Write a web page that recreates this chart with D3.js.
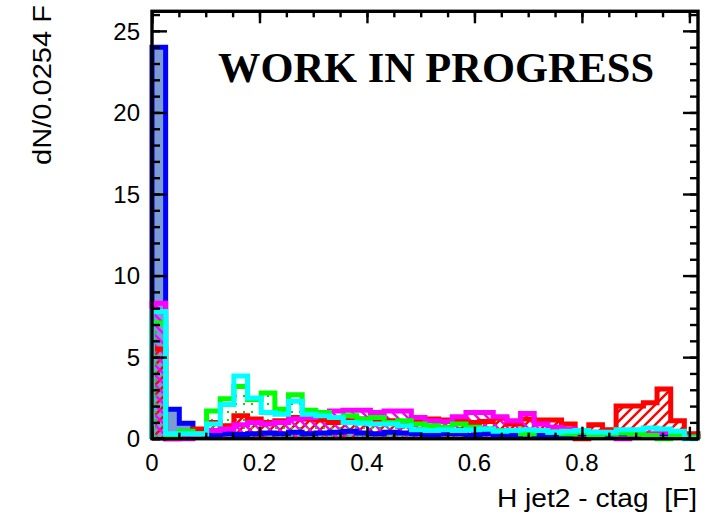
<!DOCTYPE html>
<html>
<head>
<meta charset="utf-8">
<script src="https://cdn.jsdelivr.net/npm/d3@7"></script>
<style>
  html, body { margin: 0; padding: 0; background: #fff; }
  svg { display: block; }
  text { white-space: pre; }
</style>
</head>
<body>
<svg id="chart" width="725" height="516"></svg>
<script>
// Binning: 40 bins of width 0.0254 starting at 0
const binWidth = 0.0254;
const nBins = 40;

// Bin contents per sample (dN per bin)
const blueVals = [24, 1.8, 0.95, 0.3, 0.2, 0.3, 0.25, 0.3, 0.35, 0.3, 0.4, 0.3, 0.35, 0.4, 0.45, 0.35, 0.3, 0.4, 0.35, 0.3,
                  0.25, 0.3, 0.3, 0.2, 0.3, 0.25, 0.2, 0.3, 0.2, 0.15, 0.2, 0.15, 0.2, 0.1, 0.15, 0.1, 0.1, 0.15, 0.1, 0.1];
const redVals = [5.5, 0, 0.2, 0.6, 1.0, 0.8, 1.4, 1.2, 1.0, 1.1, 1.3, 1.2, 1.15, 1.0, 1.1, 1.2, 1.0, 1.1, 0.95, 1.0,
                 1.2, 1.15, 1.15, 1.0, 1.05, 1.25, 0.9, 1.2, 1.15, 1.15, 0.9, 0, 0.85, 0.55, 2.0, 2.0, 2.2, 3.05, 1.1, 0.3];
const magentaVals = [8.3, 0, 0, 0.3, 0.5, 0.6, 0.85, 1.0, 0.9, 1.0, 1.2, 1.3, 1.6, 1.7, 1.75, 1.75, 1.6, 1.7, 1.7, 1.3,
                     1.1, 1.05, 1.35, 1.6, 1.6, 1.35, 1.1, 1.55, 0.9, 0.7, 0.6, 0.4, 0.4, 0.3, 0, 0.2, 0.3, 0.4, 0.3, 0.1];
const greenVals = [7.1, 0.1, 0.45, 0.3, 1.7, 2.45, 3.2, 2.4, 2.8, 1.8, 2.7, 1.75, 1.6, 1.3, 1.4, 1.2, 1.3, 1.0, 1.1, 0.9,
                   0.8, 0.7, 0.9, 0.7, 0.6, 0.5, 0.5, 0.3, 0.5, 0.4, 0.3, 0.4, 0.2, 0.3, 0.35, 0.3, 0.2, 0, 0.2, 0.1];
const cyanVals = [7.8, 0.3, 0.3, 0.3, 0.9, 2.1, 3.85, 2.5, 1.6, 1.5, 2.3, 1.5, 1.4, 1.3, 1.0, 0.95, 0.9, 0.9, 0.8, 0.55,
                  0.5, 0.55, 0.5, 0.55, 0.6, 0.45, 0.5, 0.55, 0.5, 0.4, 0.45, 0.5, 0.4, 0.4, 0.55, 0.55, 0.65, 0.6, 0.45, 0];

// Axis ticks and labels
const xMajorTicks = [0, 0.2, 0.4, 0.6, 0.8, 1];
const xTickLabels = ["0", "0.2", "0.4", "0.6", "0.8", "1"];
const xMinorTicks = d3.range(0, 1.0161, 0.05);
const yMajorTicks = [0, 5, 10, 15, 20, 25];
const yTickLabels = ["0", "5", "10", "15", "20", "25"];
const yMinorTicks = d3.range(0, 26.01, 1);

const xTitle = "H jet2 - ctag  [F]";
const yTitle = "dN/0.0254 F";
const banner = "WORK IN PROGRESS";

const svg = d3.select("#chart");
const xMax = binWidth * nBins;
const x = d3.scaleLinear().domain([0, xMax]).range([152, 698]);
const y = d3.scaleLinear().domain([0, 26.2]).range([438.7, 11.3]);

const defs = svg.append("defs");
// "/" hatch
const hatchR = defs.append("pattern").attr("id", "hatchRed").attr("patternUnits", "userSpaceOnUse")
  .attr("width", 10).attr("height", 10);
hatchR.append("path").attr("d", "M-2,2 L2,-2 M0,10 L10,0 M8,12 L12,8")
  .attr("stroke", "#ff0000").attr("stroke-width", 2.4);
// "\" hatch
const hatchM = defs.append("pattern").attr("id", "hatchMag").attr("patternUnits", "userSpaceOnUse")
  .attr("width", 10).attr("height", 10);
hatchM.append("path").attr("d", "M-2,8 L2,12 M0,0 L10,10 M8,-2 L12,2")
  .attr("stroke", "#ff00ff").attr("stroke-width", 2.4);
// dotted fill
const dots = defs.append("pattern").attr("id", "dotsGreen").attr("patternUnits", "userSpaceOnUse")
  .attr("width", 8).attr("height", 8);
dots.append("rect").attr("x", 3).attr("y", 3).attr("width", 2).attr("height", 2).attr("fill", "#00dd00");

// Step outline through bin edges
function stepPoints(vals) {
  const pts = [[0, 0]];
  vals.forEach((v, i) => pts.push([i * binWidth, v]));
  pts.push([nBins * binWidth, vals[vals.length - 1]]);
  pts.push([nBins * binWidth, 0]);
  return pts;
}
const stepLine = d3.line().x(d => x(d[0])).y(d => y(d[1])).curve(d3.curveStepAfter);

const series = [
  { vals: blueVals,    stroke: "#0000ff", fill: "#7b9bd3" },
  { vals: redVals,     stroke: "#ff0000", fill: "url(#hatchRed)" },
  { vals: magentaVals, stroke: "#ff00ff", fill: "url(#hatchMag)" },
  { vals: greenVals,   stroke: "#00ff00", fill: "url(#dotsGreen)" },
  { vals: cyanVals,    stroke: "#00ffff", fill: "none" }
];

const gHist = svg.append("g");
series.forEach(s => {
  const pts = stepPoints(s.vals);
  if (s.fill !== "none") {
    gHist.append("path").attr("d", stepLine(pts) + "Z").attr("fill", s.fill).attr("stroke", "none");
  }
});
series.forEach(s => {
  const pts = stepPoints(s.vals);
  gHist.append("path").attr("d", stepLine(pts))
    .attr("fill", "none").attr("stroke", s.stroke).attr("stroke-width", 5)
    .attr("stroke-linejoin", "miter");
});

// Frame
svg.append("rect").attr("x", x(0)).attr("y", y(26.2))
  .attr("width", x(xMax) - x(0)).attr("height", y(0) - y(26.2))
  .attr("fill", "none").attr("stroke", "#000").attr("stroke-width", 3.4);

// Inward ticks on all four sides
function ticks(axisFn, scale, values, size, transform) {
  const g = svg.append("g").attr("transform", transform)
    .call(axisFn(scale).tickValues(values).tickSize(size).tickFormat(""));
  g.select(".domain").remove();
  g.selectAll(".tick line").attr("stroke", "#000").attr("stroke-width", 2.4);
  return g;
}
ticks(d3.axisBottom, x, xMajorTicks, -12, `translate(0,${y(0)})`);
ticks(d3.axisBottom, x, xMinorTicks, -6, `translate(0,${y(0)})`);
ticks(d3.axisTop, x, xMajorTicks, -12, `translate(0,${y(26.2)})`);
ticks(d3.axisTop, x, xMinorTicks, -6, `translate(0,${y(26.2)})`);
ticks(d3.axisLeft, y, yMajorTicks, -15, `translate(${x(0)},0)`);
ticks(d3.axisLeft, y, yMinorTicks, -8, `translate(${x(0)},0)`);
ticks(d3.axisRight, y, yMajorTicks, -15, `translate(${x(xMax)},0)`);
ticks(d3.axisRight, y, yMinorTicks, -8, `translate(${x(xMax)},0)`);

// Tick labels
const labelFont = "'Liberation Sans', Arial, Helvetica, sans-serif";
svg.append("g").selectAll("text").data(xMajorTicks).join("text")
  .attr("x", d => x(d)).attr("y", 470.5)
  .attr("text-anchor", "middle").attr("font-family", labelFont).attr("font-size", 24)
  .text((d, i) => xTickLabels[i]);
svg.append("g").selectAll("text").data(yMajorTicks).join("text")
  .attr("x", 140).attr("y", d => y(d)).attr("dy", "0.36em")
  .attr("text-anchor", "end").attr("font-family", labelFont).attr("font-size", 24)
  .text((d, i) => yTickLabels[i]);

// Axis titles
svg.append("text").attr("x", 697).attr("y", 507)
  .attr("text-anchor", "end").attr("font-family", labelFont).attr("font-size", 26)
  .attr("textLength", 200).attr("lengthAdjust", "spacingAndGlyphs")
  .text(xTitle);
svg.append("text").attr("transform", "translate(51,5) rotate(-90)")
  .attr("text-anchor", "end").attr("font-family", labelFont).attr("font-size", 26)
  .attr("textLength", 160).attr("lengthAdjust", "spacingAndGlyphs")
  .text(yTitle);

// Banner
svg.append("text").attr("x", 218).attr("y", 82)
  .attr("font-family", "'Liberation Serif', 'Times New Roman', serif")
  .attr("font-weight", "bold").attr("font-size", 42)
  .attr("textLength", 436).attr("lengthAdjust", "spacingAndGlyphs")
  .text(banner);
</script>
</body>
</html>
